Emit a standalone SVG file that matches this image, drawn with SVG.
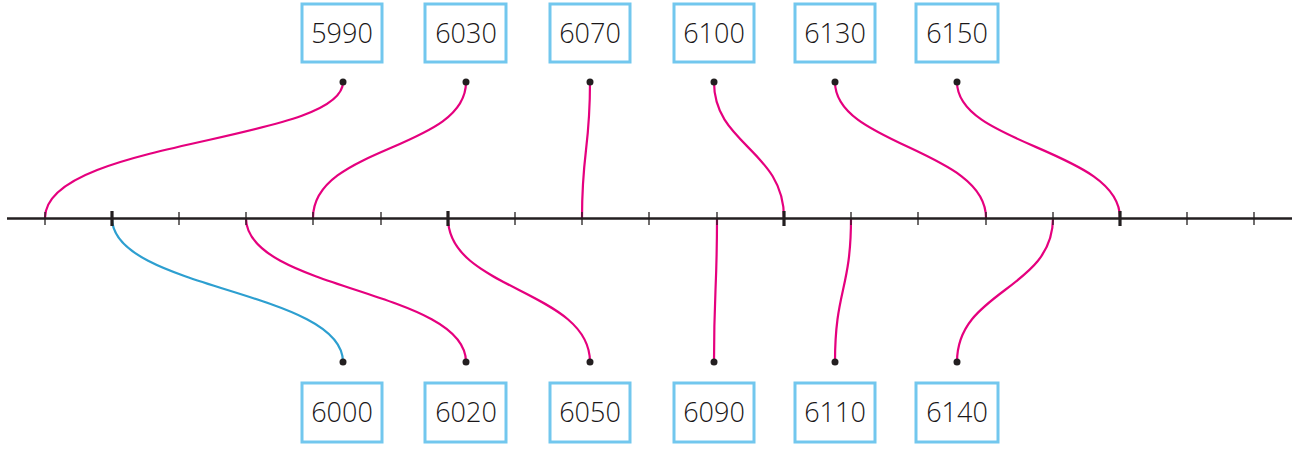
<svg xmlns="http://www.w3.org/2000/svg" width="1303" height="450" viewBox="0 0 1303 450">
<style>
.box rect{fill:#fff;stroke:#72c7ee;stroke-width:3}
.box text{font-family:"Open Sans","Liberation Sans",sans-serif;font-weight:300;font-size:27px;fill:#1a1718;text-anchor:middle}
.c{fill:none;stroke:#e5007e;stroke-width:2.2}
.cb{fill:none;stroke:#2d9fd0;stroke-width:2.2}
.dot{fill:#231f20}
.axis{stroke:#231f20;stroke-width:2.5}
.tk{stroke:#231f20;stroke-width:1.3}
.tj{stroke:#231f20;stroke-width:3.2}
</style>
<g id="connectors">
<path class="c" d="M343,82 C343,142 45,140 45,218"/>
<path class="c" d="M466,82 C466,150 313,146 313,218"/>
<path class="c" d="M590,82 C590,150 582,150 582,218"/>
<path class="c" d="M714,82 C714,145 784,150 784,218"/>
<path class="c" d="M835,82 C835,145 986,150 986,218"/>
<path class="c" d="M957,82 C957,145 1120,150 1120,218"/>
<path class="cb" d="M112,218 C112,290 343,290 343,362"/>
<path class="c" d="M246,218 C246,290 466,290 466,362"/>
<path class="c" d="M448,218 C448,290 590,290 590,362"/>
<path class="c" d="M717,218 C717,290 714,290 714,362"/>
<path class="c" d="M851,218 C851,290 835,290 835,362"/>
<path class="c" d="M1053,218 C1053,290 957,290 957,362"/>
</g>
<g id="axis">
<line class="axis" x1="7" y1="218.5" x2="1292" y2="218.5"/>
<line class="tk" x1="45" y1="212" x2="45" y2="225"/>
<line class="tj" x1="112" y1="211" x2="112" y2="226"/>
<line class="tk" x1="179" y1="212" x2="179" y2="225"/>
<line class="tk" x1="246" y1="212" x2="246" y2="225"/>
<line class="tk" x1="313" y1="212" x2="313" y2="225"/>
<line class="tk" x1="381" y1="212" x2="381" y2="225"/>
<line class="tj" x1="448" y1="211" x2="448" y2="226"/>
<line class="tk" x1="515" y1="212" x2="515" y2="225"/>
<line class="tk" x1="582" y1="212" x2="582" y2="225"/>
<line class="tk" x1="649" y1="212" x2="649" y2="225"/>
<line class="tk" x1="717" y1="212" x2="717" y2="225"/>
<line class="tj" x1="784" y1="211" x2="784" y2="226"/>
<line class="tk" x1="851" y1="212" x2="851" y2="225"/>
<line class="tk" x1="918" y1="212" x2="918" y2="225"/>
<line class="tk" x1="986" y1="212" x2="986" y2="225"/>
<line class="tk" x1="1053" y1="212" x2="1053" y2="225"/>
<line class="tj" x1="1120" y1="211" x2="1120" y2="226"/>
<line class="tk" x1="1187" y1="212" x2="1187" y2="225"/>
<line class="tk" x1="1254" y1="212" x2="1254" y2="225"/>
</g>
<g id="n5990" class="box"><rect x="302" y="4" width="80" height="58"/><text x="342" y="43">5990</text><circle class="dot" cx="343" cy="82" r="3.5"/></g>
<g id="n6030" class="box"><rect x="425" y="4" width="81" height="58"/><text x="466" y="43">6030</text><circle class="dot" cx="466" cy="82" r="3.5"/></g>
<g id="n6070" class="box"><rect x="550" y="4" width="80" height="58"/><text x="590" y="43">6070</text><circle class="dot" cx="590" cy="82" r="3.5"/></g>
<g id="n6100" class="box"><rect x="674" y="4" width="80" height="58"/><text x="714" y="43">6100</text><circle class="dot" cx="714" cy="82" r="3.5"/></g>
<g id="n6130" class="box"><rect x="795" y="4" width="80" height="58"/><text x="835" y="43">6130</text><circle class="dot" cx="835" cy="82" r="3.5"/></g>
<g id="n6150" class="box"><rect x="916" y="4" width="82" height="58"/><text x="957" y="43">6150</text><circle class="dot" cx="957" cy="82" r="3.5"/></g>
<g id="n6000" class="box"><rect x="302" y="383" width="80" height="59"/><text x="342" y="422">6000</text><circle class="dot" cx="343" cy="362" r="3.5"/></g>
<g id="n6020" class="box"><rect x="425" y="383" width="81" height="59"/><text x="466" y="422">6020</text><circle class="dot" cx="466" cy="362" r="3.5"/></g>
<g id="n6050" class="box"><rect x="550" y="383" width="80" height="59"/><text x="590" y="422">6050</text><circle class="dot" cx="590" cy="362" r="3.5"/></g>
<g id="n6090" class="box"><rect x="674" y="383" width="80" height="59"/><text x="714" y="422">6090</text><circle class="dot" cx="714" cy="362" r="3.5"/></g>
<g id="n6110" class="box"><rect x="795" y="383" width="80" height="59"/><text x="835" y="422">6110</text><circle class="dot" cx="835" cy="362" r="3.5"/></g>
<g id="n6140" class="box"><rect x="916" y="383" width="82" height="59"/><text x="957" y="422">6140</text><circle class="dot" cx="957" cy="362" r="3.5"/></g>
</svg>
